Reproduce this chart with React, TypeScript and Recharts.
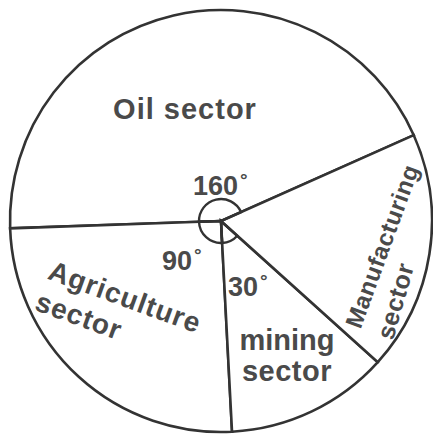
import { PieChart, Pie } from 'recharts'

// sectors, in drawing order (counter-clockwise from the upper-right line)
const sectors = ['Oil', 'Agriculture', 'Mining', 'Manufacturing']

// sector sizes as drawn in the picture (degrees)
const drawnAngles = [158, 91, 45, 66]

// angle marks written near the centre
const angleLabels = ['160', '90', '30', '']

const nameLines = [
  ['Oil sector'],
  ['Agriculture', 'sector'],
  ['mining', 'sector'],
  ['Manufacturing', 'sector'],
]

const data = sectors.map((name, i) => ({
  name,
  value: drawnAngles[i],
}))

// only the marked angles get a little arc
const arcData = data.filter((_, i) => angleLabels[i])
const arcSpan = arcData.reduce((s, d) => s + d.value, 0)

const INK = '#333'
const TEXT = '#4a4a4a'
const FONT = '"Liberation Sans", Arial, sans-serif'
const START = 24

// where the hand-written texts sit
const namePos = [
  [{ x: 185, y: 109, r: 0, s: 29, ls: 1 }],
  [
    { x: 125, y: 297, r: 20, s: 28, ls: 1 },
    { x: 79, y: 316, r: 20, s: 28, ls: 1 },
  ],
  [
    { x: 287, y: 340, r: 0, s: 29, ls: 0 },
    { x: 287, y: 371, r: 0, s: 29, ls: 0.5 },
  ],
  [
    { x: 382, y: 246, r: -70, s: 24, ls: 0.5 },
    { x: 395, y: 301, r: -74, s: 25, ls: 0.5 },
  ],
]

// baseline start of the angle numbers
const anglePos = [
  { x: 193, y: 195 },
  { x: 162, y: 270 },
  { x: 228, y: 296 },
  { x: 0, y: 0 },
]

function renderLabel(props: any) {
  const i = props.index
  return (
    <g key={`lbl-${i}`} fontFamily={FONT} fontWeight="bold">
      {nameLines[i].map((t, j) => {
        const p = namePos[i][j]
        return (
          <text
            key={j}
            x={p.x}
            y={p.y}
            fontSize={p.s}
            textAnchor="middle"
            dominantBaseline="central"
            letterSpacing={p.ls}
            stroke="none"
            fill={TEXT}
            transform={`rotate(${p.r} ${p.x} ${p.y})`}
          >
            {t}
          </text>
        )
      })}
      {angleLabels[i] ? (
        <text
          x={anglePos[i].x}
          y={anglePos[i].y}
          fontSize={27}
          stroke="none"
          fill={TEXT}
        >
          {angleLabels[i]}
          <tspan fontSize={19} dx={2} dy={-9}>
            °
          </tspan>
        </text>
      ) : null}
    </g>
  )
}

export default function App() {
  return (
    <div
      style={{
        position: 'absolute',
        left: 0,
        top: 0,
        width: 433,
        height: 434,
        background: '#fff',
      }}
    >
      <PieChart
        width={433}
        height={434}
        margin={{ top: 0, right: 0, bottom: 0, left: 0 }}
      >
        <Pie
          data={data}
          dataKey="value"
          cx={221}
          cy={221}
          outerRadius={211}
          startAngle={START}
          endAngle={START + 360}
          fill="#fff"
          stroke={INK}
          strokeWidth={2.6}
          label={renderLabel}
          labelLine={false}
          isAnimationActive={false}
        />
        {/* small angle arcs round the centre */}
        <Pie
          data={arcData}
          dataKey="value"
          cx={221}
          cy={221}
          outerRadius={22}
          startAngle={START}
          endAngle={START + arcSpan}
          fill="none"
          stroke={INK}
          strokeWidth={2.4}
          isAnimationActive={false}
        />
      </PieChart>
    </div>
  )
}
